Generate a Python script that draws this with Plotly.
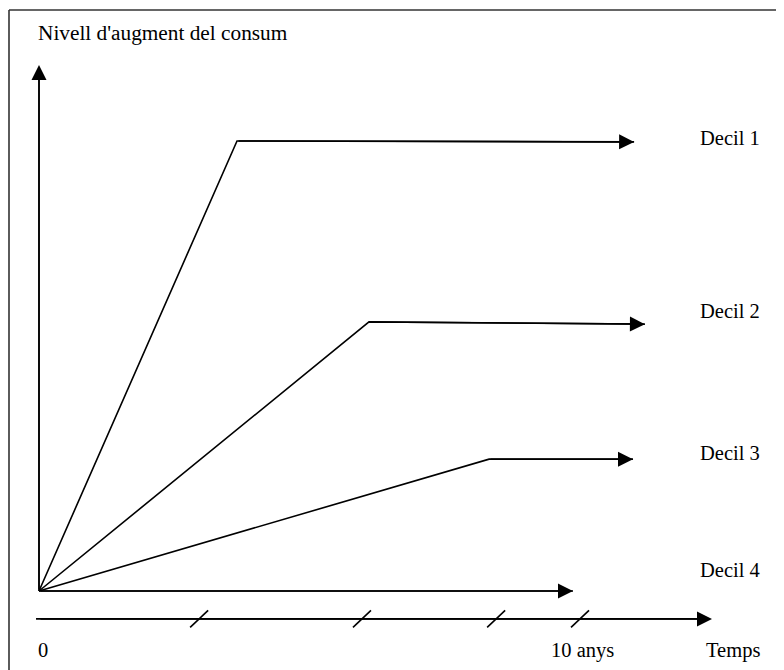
import plotly.graph_objects as go

# ---- data (logical units: x = years, y = consumption level) ----
series_names = ["Decil 1", "Decil 2", "Decil 3", "Decil 4"]
decil1_x = [0, 3.66, 11.0]
decil1_y = [0, 10.0, 9.98]
decil2_x = [0, 6.10, 11.2]
decil2_y = [0, 5.98, 5.93]
decil3_x = [0, 8.32, 10.98]
decil3_y = [0, 2.93, 2.93]
decil4_x = [0, 9.87]
decil4_y = [0, 0]
label_y = [10.07, 6.22, 3.07, 0.47]
tick_x = [2.96, 5.97, 8.45, 10.0]
tick_labels = ["0", "10 anys"]
tick_label_x = [-0.05, 10.05]
axis_x_end = 12.44
axis_y_end = 11.69
time_axis_y = -0.62

W, H = 784, 670
OFF = 8.0                     # page body margin
X0, XS = 39.0 - OFF, 54.1     # figure pixel of x=0, pixels per unit
Y0, YS = 591.0 - OFF, 45.0    # figure pixel of y=0, pixels per unit

FONT = "Liberation Serif"
BLACK = "#000000"
LW = 1.6


def pxp(px):
    return (px - OFF) / W


def pyp(py):
    return 1 - (py - OFF) / H


fig = go.Figure()

series = [(decil1_x, decil1_y), (decil2_x, decil2_y), (decil3_x, decil3_y), (decil4_x, decil4_y)]
for name, (xs, ys) in zip(series_names, series):
    fig.add_trace(go.Scatter(x=xs, y=ys, mode="lines", name=name,
                             line=dict(color=BLACK, width=LW), hoverinfo="skip"))

# vertical axis line
fig.add_trace(go.Scatter(x=[0, 0], y=[0, axis_y_end - 0.2], mode="lines",
                         line=dict(color=BLACK, width=LW), hoverinfo="skip"))
# time axis line
fig.add_trace(go.Scatter(x=[-0.055, axis_x_end - 0.2], y=[time_axis_y, time_axis_y], mode="lines",
                         line=dict(color=BLACK, width=LW), hoverinfo="skip"))

# slash ticks on the time axis
dx, dy = 9.0 / XS, 8.5 / YS
sx, sy = [], []
for t in tick_x:
    sx += [t - dx, t + dx, None]
    sy += [time_axis_y - dy, time_axis_y + dy, None]
fig.add_trace(go.Scatter(x=sx, y=sy, mode="lines", line=dict(color=BLACK, width=LW),
                         hoverinfo="skip"))

annotations = []


def arrow(x, y, ax, ay):
    annotations.append(dict(x=x, y=y, ax=ax, ay=ay, xref="x", yref="y", axref="x", ayref="y",
                            showarrow=True, arrowhead=2, arrowsize=2.0, arrowwidth=1.5,
                            arrowcolor=BLACK, text="", standoff=0, startstandoff=0))


for xs, ys in series:
    arrow(xs[-1], ys[-1], xs[-2], ys[-2])
arrow(0, axis_y_end, 0, 0)
arrow(axis_x_end, time_axis_y, 0, time_axis_y)

for name, ly in zip(series_names, label_y):
    annotations.append(dict(x=12.18, y=ly, xref="x", yref="y", text=name, showarrow=False,
                            xanchor="left", yanchor="middle",
                            font=dict(family=FONT, size=20.5, color=BLACK)))

for lab, lx in zip(tick_labels, tick_label_x):
    annotations.append(dict(x=lx, y=-1.32, xref="x", yref="y", text=lab, showarrow=False,
                            xanchor="left" if lab == "0" else "center", yanchor="middle",
                            font=dict(family=FONT, size=20.5, color=BLACK)))

annotations.append(dict(x=pxp(733), y=pyp(650), xref="paper", yref="paper", text="Temps",
                        showarrow=False, xanchor="center", yanchor="middle",
                        font=dict(family=FONT, size=20.5, color=BLACK)))
annotations.append(dict(x=pxp(36), y=pyp(33), xref="paper", yref="paper",
                        text="Nivell d'augment del consum", showarrow=False,
                        xanchor="left", yanchor="middle",
                        font=dict(family=FONT, size=21.3, color=BLACK)))

shapes = [
    dict(type="line", xref="paper", yref="paper", x0=pxp(9), x1=pxp(9), y0=-0.05, y1=pyp(10),
         line=dict(color="#333333", width=1.6)),
    dict(type="line", xref="paper", yref="paper", x0=pxp(9), x1=1.05, y0=pyp(10), y1=pyp(10),
         line=dict(color="#333333", width=1.6)),
]

fig.update_layout(
    width=W, height=H,
    margin=dict(l=0, r=0, t=0, b=0),
    paper_bgcolor="white", plot_bgcolor="white",
    showlegend=False,
    xaxis=dict(range=[-X0 / XS, (W - X0) / XS], visible=False, fixedrange=True),
    yaxis=dict(range=[(Y0 - H) / YS, Y0 / YS], visible=False, fixedrange=True),
    annotations=annotations,
    shapes=shapes,
)

fig.write_html("out.html")
